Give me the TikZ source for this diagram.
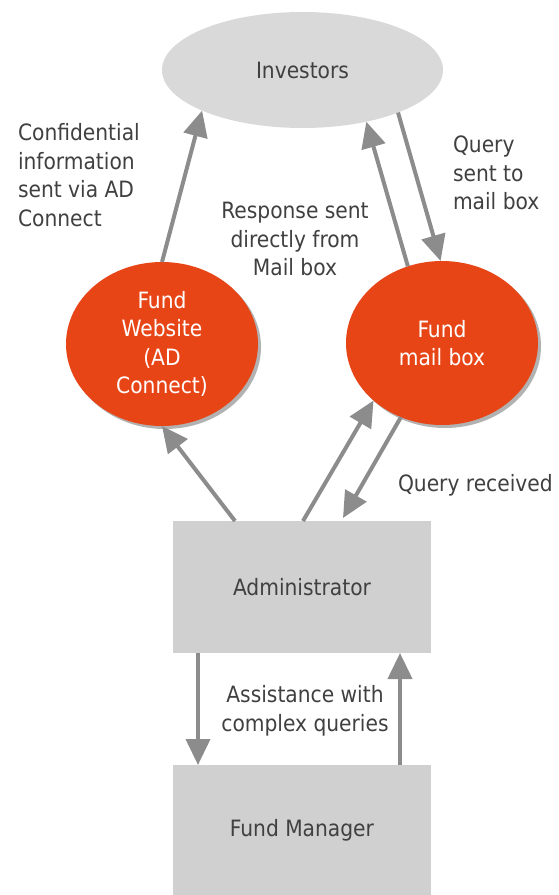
\documentclass[tikz,border=0pt]{standalone}
\usepackage{fontspec}
\setmainfont{DejaVu Sans Condensed}
\usetikzlibrary{arrows.meta,shapes.geometric,shadows,calc}
\definecolor{invgray}{HTML}{D9D9D9}
\definecolor{boxgray}{HTML}{D0D0D0}
\definecolor{fundorange}{HTML}{E84516}
\definecolor{arrowgray}{HTML}{8C8C8C}
\definecolor{txt}{HTML}{404040}
\begin{document}
\begin{tikzpicture}[x=1pt,y=-1pt,
  every node/.style={font=\fontsize{22.5}{28.5}\selectfont, text=txt, inner sep=0pt, outer sep=0pt},
  invoval/.style={ellipse, minimum width=281pt, minimum height=116pt, fill=invgray},
  fundoval/.style={ellipse, minimum width=192pt, minimum height=164pt, fill=fundorange, text=white, align=center,
     drop shadow={shadow xshift=3pt, shadow yshift=-3pt, fill=black, opacity=0.3}},
  greybox/.style={rectangle, minimum width=258pt, fill=boxgray},
  lbl/.style={align=left},
  clbl/.style={align=center},
  arr/.style={draw=arrowgray, line width=4pt, -{Triangle[length=26pt,width=24pt]}}
]
\useasboundingbox (0,0) rectangle (558,895);
\fill[white] (0,0) rectangle (558,895);

\node[invoval] (inv) at (302.5,70) {Investors};
\node[fundoval] (web) at (162,344) {Fund\\Website\\(AD\\Connect)};
\node[fundoval] (mail) at (442,343) {Fund\\mail box};
\node[greybox, minimum height=132pt] (adm) at (302,587) {Administrator};
\node[greybox, minimum height=130pt] (fm) at (302,830) {Fund Manager};

\node[lbl, anchor=west] (tconf) at (18,175) {Confidential\\information\\sent via AD\\Connect};
\node[clbl] (tresp) at (295,239) {Response sent\\directly from\\Mail box};
\node[lbl, anchor=west] (tquery) at (453,173) {Query\\sent to\\mail box};
\node[lbl, anchor=west] (trec) at (398,485) {Query received};
\node[clbl] (tassist) at (305,711) {Assistance with\\complex queries};

\draw[arr] (web.north) -- (inv.202.4);
\draw[arr] (inv.336.7) -- (mail.91.4);
\draw[arr] (mail.114.3) -- (inv.321.1);
\draw[arr] ($(adm.north west)+(62,0)$) -- (web.south);
\draw[arr] ($(adm.north)+(1,0)$) -- (mail.220);
\draw[arr] (mail.241.9) -- ($(adm.north)+(41,-3)$);
\draw[arr] ($(adm.south west)+(25,0)$) -- ($(fm.north west)+(25,0)$);
\draw[arr] ($(fm.north east)+(-31,0)$) -- ($(adm.south east)+(-31,0)$);
\end{tikzpicture}
\end{document}
